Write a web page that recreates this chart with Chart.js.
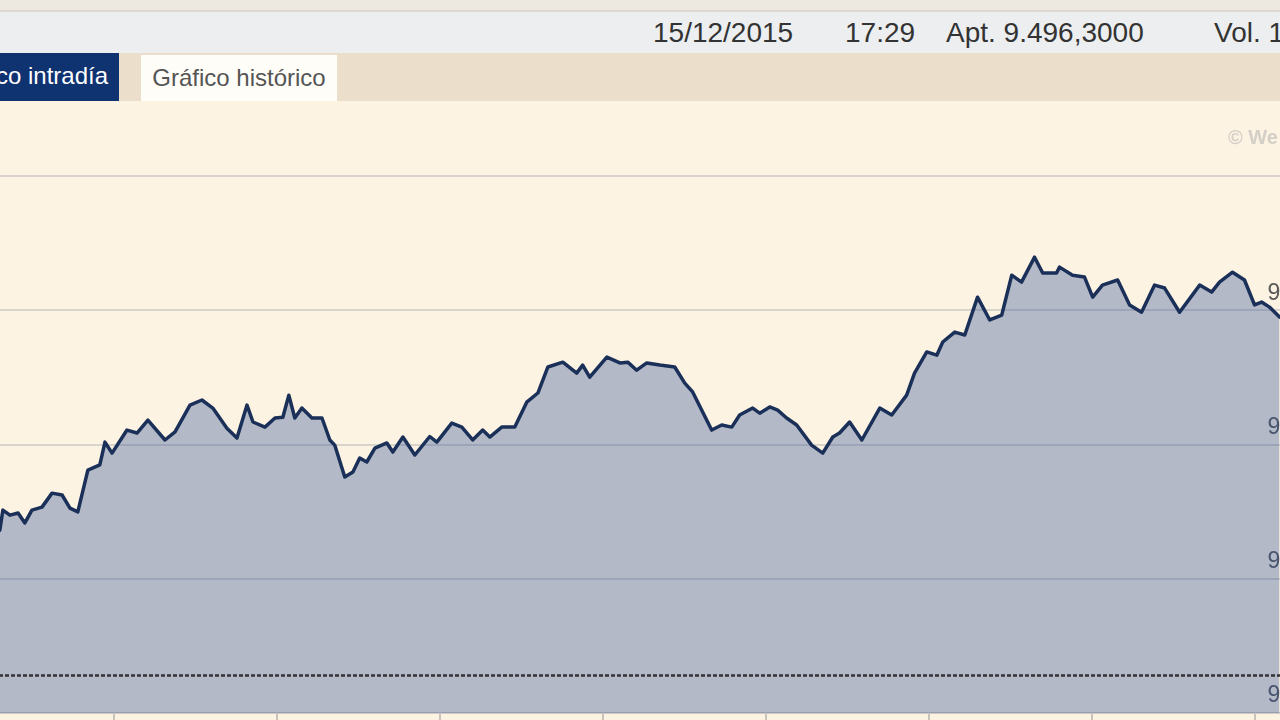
<!DOCTYPE html>
<html lang="es">
<head>
<meta charset="utf-8">
<title>Gráfico intradía 15/12/2015</title>
<script src="https://cdn.jsdelivr.net/npm/chart.js@4.4.1/dist/chart.umd.min.js"></script>
<style>
  html, body { margin: 0; padding: 0; width: 1280px; height: 720px; overflow: hidden; background: #fdf3e2; font-family: "Liberation Sans", Arial, sans-serif; }
  #page { position: relative; width: 1280px; height: 720px; overflow: hidden; }
  .band { position: absolute; left: 0; top: 0; width: 1280px; height: 10px; background: #ede8e0; border-bottom: 2px solid #dcd7cf; }
  .quote { position: absolute; left: 0; top: 12px; width: 1280px; height: 41px; background: #eceef0; color: #333; font-size: 28px; }
  .quote span { position: absolute; top: 5px; white-space: nowrap; }
  .tabs { position: absolute; left: 0; top: 53px; width: 1280px; height: 48px; background: #ebdfcc; }
  .tab { position: absolute; font-size: 24px; line-height: 46px; white-space: nowrap; }
  .tab.on { left: -110px; width: 218px; top: 0; height: 48px; background: #0f3271; color: #fff; text-align: right; padding-right: 11px; }
  .tab.off { left: 141px; width: 196px; top: 2px; height: 46px; background: #fffdf8; color: #555; text-align: center; }
  #chartBox { position: absolute; left: -49px; top: 101px; width: 1385px; height: 641px; }
  .wm { position: absolute; left: 1228px; top: 126px; color: #d3cec6; font-weight: bold; font-size: 20px; white-space: nowrap; }
</style>
</head>
<body>
<div id="page">
  <div class="band"></div>
  <div class="quote">
    <span style="left:653px">15/12/2015</span>
    <span style="left:845px">17:29</span>
    <span style="left:946px">Apt. 9.496,3000</span>
    <span style="left:1214px">Vol. 1</span>
  </div>
  <div class="tabs">
    <div class="tab on">Gráfico intradía</div>
    <div class="tab off">Gráfico histórico</div>
  </div>
  <div id="chartBox"><canvas id="chart"></canvas></div>
  <div class="wm">© We</div>
</div>
<script>
// minutos desde las 9:00 y cotización
const minutes = [
  0, 18.0, 19.1, 21.7, 24.7, 27.2, 29.8, 33.5, 37.2, 40.9, 43.8, 46.7, 50.4, 54.8, 56.7, 59.3,
  64.8, 68.5, 72.5, 78.8, 82.5, 88.0, 92.4, 96.4, 101.6, 105.3, 109.0, 111.2, 115.6, 119.3, 122.2,
  124.4, 126.6, 129.2, 132.9, 136.6, 139.5, 141.3, 145.0, 148.0, 150.5, 153.1, 156.1, 160.5, 162.7,
  166.4, 170.8, 176.3, 178.9, 184.4, 188.1, 192.1, 195.8, 198.4, 202.8, 207.6, 212.0, 216.1, 219.8,
  225.3, 230.4, 232.6, 235.2, 241.5, 246.3, 249.2, 252.5, 256.2, 261.0, 266.5, 270.2, 273.1, 280.1,
  283.8, 287.5, 290.4, 295.2, 297.8, 301.5, 304.4, 307.7, 311.4, 316.9, 321.0, 324.7, 327.2, 330.9,
  335.4, 342.0, 346.4, 351.9, 354.8, 359.3, 363.0, 365.2, 369.6, 373.3, 378.0, 382.5, 386.9, 390.6,
  394.2, 399.0, 402.0, 407.1, 408.2, 413.0, 417.4, 420.4, 424.0, 429.6, 434.0, 438.4, 443.2, 446.9,
  452.4, 459.8, 464.2, 467.1, 471.9, 476.3, 480.0, 482.6, 485.5, 489.2
];
const prices = [
  9496.3, 9518.2, 9525.6, 9523.7, 9524.5, 9520.8, 9525.6, 9526.7, 9531.9, 9531.2, 9526.3, 9524.9, 9540.5, 9542.4, 9550.9, 9546.8,
  9555.4, 9554.3, 9559.1, 9551.7, 9554.7, 9564.7, 9566.6, 9563.6, 9556.1, 9552.4, 9564.7, 9558.4, 9556.5, 9559.9, 9560.2,
  9568.4, 9559.9, 9563.6, 9559.9, 9559.9, 9551.7, 9549.8, 9537.9, 9539.8, 9545.0, 9543.5, 9548.7, 9550.6, 9547.2,
  9552.8, 9546.1, 9553.0, 9550.9, 9558.0, 9556.5, 9551.7, 9555.4, 9552.8, 9556.5, 9556.5, 9565.8, 9569.2, 9578.9,
  9580.7, 9576.6, 9579.6, 9575.1, 9582.6, 9580.4, 9580.7, 9577.7, 9580.4, 9579.6, 9578.9, 9572.9, 9569.6, 9555.4,
  9557.3, 9556.5, 9561.0, 9563.6, 9561.7, 9564.0, 9562.8, 9559.9, 9557.3, 9549.8, 9546.8, 9552.8, 9554.3, 9558.4,
  9551.7, 9563.6, 9561.0, 9568.4, 9576.6, 9584.5, 9583.3, 9588.2, 9591.9, 9590.8, 9604.9, 9596.4, 9598.2, 9613.1,
  9610.5, 9619.8, 9613.9, 9613.9, 9616.1, 9613.1, 9612.4, 9604.9, 9609.4, 9611.3, 9602.0, 9599.3, 9609.4, 9608.3,
  9599.3, 9609.4, 9606.8, 9610.5, 9614.2, 9611.3, 9602.0, 9603.1, 9601.2, 9597.5
];
const prevClose = 9464;       // línea discontinua (cierre anterior)
const sessionEnd = 510;       // 17:30
const yMin = 9450, yMax = 9675, yStep = 50;
const yTopLabelHidden = 9650; // la etiqueta superior no aparece en el original

function fmtPrice(v) {
  if (v >= yTopLabelHidden) return "";
  const s = String(Math.round(v));
  return s.slice(0, -3) + "." + s.slice(-3);
}
function fmtHour(m) {
  const h = 9 + Math.floor(m / 60), mm = m % 60;
  return h + ":" + (mm < 10 ? "0" : "") + mm;
}

new Chart(document.getElementById("chart"), {
  type: "line",
  data: {
    datasets: [
      {
        data: [{ x: 0, y: prevClose }, { x: sessionEnd, y: prevClose }],
        borderColor: "#333",
        borderWidth: 2.5,
        borderDash: [4, 2],
        pointRadius: 0,
        fill: false
      },
      {
        data: minutes.map((m, i) => ({ x: m, y: prices[i] })),
        borderColor: "#1a3059",
        borderWidth: 3.5,
        borderJoinStyle: "round",
        borderCapStyle: "round",
        backgroundColor: "rgba(42,76,153,0.35)",
        pointRadius: 0,
        tension: 0,
        fill: "start"
      }
    ]
  },
  options: {
    responsive: true,
    maintainAspectRatio: false,
    animation: false,
    layout: { padding: { top: 8, left: 0, right: 0, bottom: 0 } },
    plugins: { legend: { display: false }, tooltip: { enabled: false } },
    scales: {
      x: {
        type: "linear",
        min: 0,
        max: sessionEnd,
        ticks: { stepSize: 60, display: false, callback: v => fmtHour(v) },
        grid: { drawOnChartArea: false, drawTicks: true, tickLength: 7, color: "#c9c4bb", lineWidth: 2 },
        border: { display: true, color: "#cfcac2", width: 2 },
        afterFit: s => { s.height = 29; }
      },
      y: {
        position: "right",
        min: yMin,
        max: yMax,
        ticks: {
          stepSize: yStep,
          includeBounds: false,
          mirror: true,
          padding: -11,
          labelOffset: -17,
          color: "#5a5a5a",
          font: { size: 23, family: "Liberation Sans" },
          callback: v => fmtPrice(v)
        },
        grid: { color: "#d9d4cb", lineWidth: 2, drawTicks: false },
        border: { display: false },
        afterFit: s => { s.width = 0; }
      }
    }
  }
});
</script>
</body>
</html>
